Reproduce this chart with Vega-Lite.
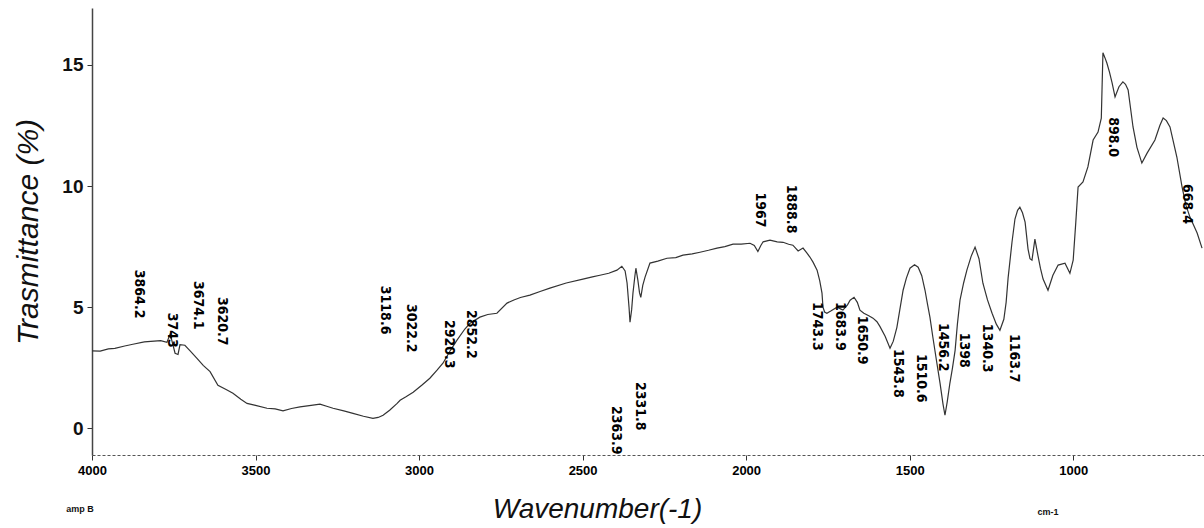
{
  "$schema": "https://vega.github.io/schema/vega-lite/v6.json",
  "autosize": {"type": "none"},
  "width": 1112,
  "height": 447,
  "padding": {"left": 92, "top": 8, "right": 0, "bottom": 73},
  "background": "white",
  "config": {"view": {"stroke": null}},
  "datasets": {
    "spectrum": [
      {"wn": 4000, "t": 3.2}, {"wn": 3975, "t": 3.19}, {"wn": 3950, "t": 3.28}, {"wn": 3930, "t": 3.3},
      {"wn": 3900, "t": 3.4}, {"wn": 3875, "t": 3.47}, {"wn": 3840, "t": 3.57}, {"wn": 3810, "t": 3.6},
      {"wn": 3790, "t": 3.62}, {"wn": 3771, "t": 3.55}, {"wn": 3761, "t": 3.9}, {"wn": 3746, "t": 3.1},
      {"wn": 3737, "t": 3.05}, {"wn": 3731, "t": 3.45}, {"wn": 3716, "t": 3.43}, {"wn": 3700, "t": 3.2},
      {"wn": 3679, "t": 2.89}, {"wn": 3660, "t": 2.6}, {"wn": 3639, "t": 2.34}, {"wn": 3615, "t": 1.78},
      {"wn": 3590, "t": 1.6}, {"wn": 3569, "t": 1.45}, {"wn": 3545, "t": 1.2}, {"wn": 3526, "t": 1.03},
      {"wn": 3500, "t": 0.95}, {"wn": 3465, "t": 0.83}, {"wn": 3440, "t": 0.8}, {"wn": 3416, "t": 0.72},
      {"wn": 3390, "t": 0.82}, {"wn": 3364, "t": 0.89}, {"wn": 3330, "t": 0.95}, {"wn": 3303, "t": 1.0},
      {"wn": 3280, "t": 0.9}, {"wn": 3263, "t": 0.83}, {"wn": 3230, "t": 0.72}, {"wn": 3202, "t": 0.62},
      {"wn": 3170, "t": 0.5}, {"wn": 3141, "t": 0.41}, {"wn": 3125, "t": 0.45}, {"wn": 3110, "t": 0.54},
      {"wn": 3090, "t": 0.75}, {"wn": 3067, "t": 1.03}, {"wn": 3058, "t": 1.16}, {"wn": 3040, "t": 1.3},
      {"wn": 3018, "t": 1.49}, {"wn": 2990, "t": 1.8}, {"wn": 2967, "t": 2.07}, {"wn": 2945, "t": 2.4},
      {"wn": 2927, "t": 2.69}, {"wn": 2905, "t": 3.2}, {"wn": 2884, "t": 3.64}, {"wn": 2860, "t": 4.1},
      {"wn": 2844, "t": 4.34}, {"wn": 2814, "t": 4.59}, {"wn": 2790, "t": 4.7}, {"wn": 2762, "t": 4.75},
      {"wn": 2731, "t": 5.17}, {"wn": 2710, "t": 5.3}, {"wn": 2690, "t": 5.4}, {"wn": 2661, "t": 5.5},
      {"wn": 2630, "t": 5.65}, {"wn": 2600, "t": 5.79}, {"wn": 2550, "t": 6.0}, {"wn": 2499, "t": 6.16},
      {"wn": 2470, "t": 6.25}, {"wn": 2447, "t": 6.32}, {"wn": 2420, "t": 6.4}, {"wn": 2395, "t": 6.53},
      {"wn": 2380, "t": 6.69}, {"wn": 2370, "t": 6.5}, {"wn": 2364, "t": 6.0}, {"wn": 2358, "t": 5.0},
      {"wn": 2355, "t": 4.38}, {"wn": 2350, "t": 4.9}, {"wn": 2346, "t": 5.58}, {"wn": 2340, "t": 6.3},
      {"wn": 2337, "t": 6.61}, {"wn": 2331, "t": 6.12}, {"wn": 2326, "t": 5.6}, {"wn": 2322, "t": 5.41},
      {"wn": 2316, "t": 5.9}, {"wn": 2309, "t": 6.24}, {"wn": 2294, "t": 6.82}, {"wn": 2270, "t": 6.9},
      {"wn": 2242, "t": 7.02}, {"wn": 2215, "t": 7.05}, {"wn": 2193, "t": 7.15}, {"wn": 2165, "t": 7.2},
      {"wn": 2141, "t": 7.27}, {"wn": 2115, "t": 7.35}, {"wn": 2089, "t": 7.44}, {"wn": 2065, "t": 7.5},
      {"wn": 2040, "t": 7.6}, {"wn": 2015, "t": 7.6}, {"wn": 1988, "t": 7.64}, {"wn": 1975, "t": 7.55},
      {"wn": 1964, "t": 7.3}, {"wn": 1955, "t": 7.55}, {"wn": 1948, "t": 7.7}, {"wn": 1927, "t": 7.77},
      {"wn": 1905, "t": 7.7}, {"wn": 1887, "t": 7.68}, {"wn": 1870, "t": 7.6}, {"wn": 1857, "t": 7.56},
      {"wn": 1841, "t": 7.32}, {"wn": 1826, "t": 7.44}, {"wn": 1815, "t": 7.25}, {"wn": 1805, "t": 7.07},
      {"wn": 1795, "t": 6.85}, {"wn": 1783, "t": 6.53}, {"wn": 1775, "t": 6.1}, {"wn": 1768, "t": 5.58},
      {"wn": 1765, "t": 5.0}, {"wn": 1760, "t": 4.8}, {"wn": 1753, "t": 4.75}, {"wn": 1740, "t": 4.85},
      {"wn": 1722, "t": 5.0}, {"wn": 1710, "t": 4.92}, {"wn": 1704, "t": 4.88}, {"wn": 1690, "t": 5.1},
      {"wn": 1682, "t": 5.29}, {"wn": 1670, "t": 5.41}, {"wn": 1660, "t": 5.2}, {"wn": 1652, "t": 4.88},
      {"wn": 1640, "t": 4.75}, {"wn": 1625, "t": 4.65}, {"wn": 1612, "t": 4.55}, {"wn": 1600, "t": 4.4},
      {"wn": 1591, "t": 4.21}, {"wn": 1575, "t": 3.8}, {"wn": 1560, "t": 3.31}, {"wn": 1550, "t": 3.6},
      {"wn": 1539, "t": 4.17}, {"wn": 1530, "t": 4.9}, {"wn": 1520, "t": 5.7}, {"wn": 1510, "t": 6.2},
      {"wn": 1499, "t": 6.61}, {"wn": 1485, "t": 6.75}, {"wn": 1474, "t": 6.65}, {"wn": 1463, "t": 6.3},
      {"wn": 1453, "t": 5.7}, {"wn": 1445, "t": 5.1}, {"wn": 1438, "t": 4.59}, {"wn": 1429, "t": 3.76},
      {"wn": 1418, "t": 2.8}, {"wn": 1407, "t": 1.86}, {"wn": 1398, "t": 1.0}, {"wn": 1392, "t": 0.54},
      {"wn": 1385, "t": 1.1}, {"wn": 1377, "t": 1.86}, {"wn": 1369, "t": 2.5}, {"wn": 1361, "t": 3.22},
      {"wn": 1354, "t": 4.3}, {"wn": 1346, "t": 5.29}, {"wn": 1335, "t": 6.0}, {"wn": 1325, "t": 6.53},
      {"wn": 1312, "t": 7.1}, {"wn": 1300, "t": 7.48}, {"wn": 1288, "t": 7.0}, {"wn": 1276, "t": 5.99},
      {"wn": 1262, "t": 5.3}, {"wn": 1248, "t": 4.75}, {"wn": 1235, "t": 4.3}, {"wn": 1224, "t": 4.05},
      {"wn": 1212, "t": 4.5}, {"wn": 1205, "t": 5.2}, {"wn": 1199, "t": 6.2}, {"wn": 1187, "t": 7.69},
      {"wn": 1178, "t": 8.64}, {"wn": 1170, "t": 9.0}, {"wn": 1163, "t": 9.13}, {"wn": 1155, "t": 8.9},
      {"wn": 1147, "t": 8.51}, {"wn": 1138, "t": 7.4}, {"wn": 1132, "t": 7.0}, {"wn": 1126, "t": 6.94},
      {"wn": 1117, "t": 7.81}, {"wn": 1108, "t": 7.15}, {"wn": 1100, "t": 6.6}, {"wn": 1092, "t": 6.16},
      {"wn": 1077, "t": 5.7}, {"wn": 1062, "t": 6.32}, {"wn": 1046, "t": 6.74}, {"wn": 1025, "t": 6.82},
      {"wn": 1010, "t": 6.4}, {"wn": 1000, "t": 6.94}, {"wn": 992, "t": 8.5}, {"wn": 985, "t": 9.96},
      {"wn": 970, "t": 10.17}, {"wn": 955, "t": 10.79}, {"wn": 939, "t": 11.9}, {"wn": 924, "t": 12.23},
      {"wn": 914, "t": 12.8}, {"wn": 909, "t": 15.5}, {"wn": 903, "t": 15.3}, {"wn": 897, "t": 15.08},
      {"wn": 889, "t": 14.7}, {"wn": 881, "t": 14.26}, {"wn": 872, "t": 13.68}, {"wn": 860, "t": 14.1},
      {"wn": 848, "t": 14.3}, {"wn": 840, "t": 14.2}, {"wn": 832, "t": 13.97}, {"wn": 817, "t": 12.44},
      {"wn": 805, "t": 11.6}, {"wn": 790, "t": 10.95}, {"wn": 774, "t": 11.36}, {"wn": 750, "t": 11.9},
      {"wn": 735, "t": 12.5}, {"wn": 725, "t": 12.81}, {"wn": 715, "t": 12.7}, {"wn": 704, "t": 12.44},
      {"wn": 683, "t": 11.2}, {"wn": 667, "t": 9.96}, {"wn": 655, "t": 9.2}, {"wn": 643, "t": 8.72},
      {"wn": 621, "t": 8.06}, {"wn": 606, "t": 7.44}
    ],
    "peaks": [
      {"wn": 3856, "t": 5.54, "label": "3864.2"},
      {"wn": 3755, "t": 4.05, "label": "3743"},
      {"wn": 3676, "t": 5.08, "label": "3674.1"},
      {"wn": 3602, "t": 4.42, "label": "3620.7"},
      {"wn": 3104, "t": 4.88, "label": "3118.6"},
      {"wn": 3025, "t": 4.13, "label": "3022.2"},
      {"wn": 2908, "t": 3.47, "label": "2920.3"},
      {"wn": 2841, "t": 3.88, "label": "2852.2"},
      {"wn": 2398, "t": -0.08, "label": "2363.9"},
      {"wn": 2324, "t": 0.91, "label": "2331.8"},
      {"wn": 1957, "t": 9.01, "label": "1967"},
      {"wn": 1863, "t": 9.05, "label": "1888.8"},
      {"wn": 1783, "t": 4.21, "label": "1743.3"},
      {"wn": 1713, "t": 4.21, "label": "1683.9"},
      {"wn": 1646, "t": 3.64, "label": "1650.9"},
      {"wn": 1536, "t": 2.27, "label": "1543.8"},
      {"wn": 1465, "t": 2.07, "label": "1510.6"},
      {"wn": 1398, "t": 3.35, "label": "1456.2"},
      {"wn": 1334, "t": 3.22, "label": "1398"},
      {"wn": 1263, "t": 3.31, "label": "1340.3"},
      {"wn": 1181, "t": 2.89, "label": "1163.7"},
      {"wn": 878, "t": 12.02, "label": "898.0"},
      {"wn": 652, "t": 9.26, "label": "668.4"}
    ],
    "notes": [
      {"wn": 4037, "t": -3.31, "label": "amp B"},
      {"wn": 1077, "t": -3.47, "label": "cm-1"}
    ]
  },
  "layer": [
    {
      "data": {"name": "spectrum"},
      "mark": {"type": "line", "color": "#333333", "strokeWidth": 1.2},
      "encoding": {
        "x": {
          "field": "wn", "type": "quantitative",
          "scale": {"domain": [4000, 600], "nice": false, "zero": false},
          "axis": {
            "values": [4000, 3500, 3000, 2500, 2000, 1500, 1000],
            "format": "d",
            "labelFlush": false,
            "grid": false,
            "domainColor": "#555555", "domainDash": [3, 2], "domainWidth": 1,
            "tickColor": "#333333", "tickSize": 5,
            "labelFont": "Liberation Sans", "labelFontWeight": "bold", "labelFontSize": 13,
            "labelColor": "#000000", "labelPadding": 4,
            "title": "Wavenumber(-1)",
            "titleFont": "Liberation Sans", "titleFontStyle": "italic", "titleFontWeight": "normal",
            "titleFontSize": 28, "titleColor": "#111111",
            "titleX": 505, "titleY": 40, "titleAlign": "center", "titleBaseline": "top"
          }
        },
        "y": {
          "field": "t", "type": "quantitative",
          "scale": {"domain": [-1.1, 17.35], "nice": false, "zero": false},
          "axis": {
            "values": [0, 5, 10, 15],
            "grid": false,
            "domainColor": "#444444", "domainWidth": 1.5,
            "tickColor": "#333333", "tickSize": 5,
            "labelFont": "Liberation Sans", "labelFontWeight": "bold", "labelFontSize": 19,
            "labelColor": "#111111", "labelPadding": 4,
            "title": "Trasmittance (%)",
            "titleFont": "Liberation Sans", "titleFontStyle": "italic", "titleFontWeight": "normal",
            "titleFontSize": 30, "titleColor": "#111111", "titlePadding": 18
          }
        }
      }
    },
    {
      "data": {"name": "peaks"},
      "mark": {
        "type": "text", "angle": 90, "align": "center", "baseline": "middle",
        "font": "Liberation Sans Narrow, DejaVu Sans Condensed, sans-serif",
        "fontWeight": "bold", "fontSize": 14, "color": "#000000"
      },
      "encoding": {
        "x": {"field": "wn", "type": "quantitative"},
        "y": {"field": "t", "type": "quantitative"},
        "text": {"field": "label"}
      }
    },
    {
      "data": {"name": "notes"},
      "mark": {
        "type": "text", "align": "center", "baseline": "middle",
        "font": "Liberation Sans", "fontWeight": "bold", "fontSize": 9, "color": "#111111"
      },
      "encoding": {
        "x": {"field": "wn", "type": "quantitative"},
        "y": {"field": "t", "type": "quantitative"},
        "text": {"field": "label"}
      }
    }
  ]
}
